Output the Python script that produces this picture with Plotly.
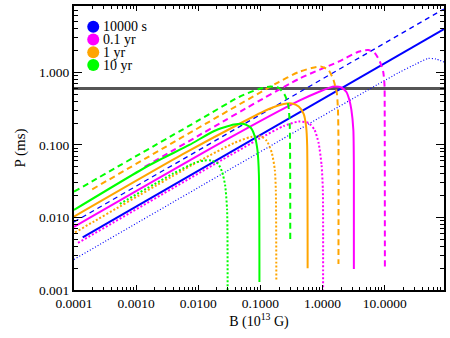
import math
import plotly.graph_objects as go

# ---------------- data (B in 1e13 G, P in ms) ----------------
B_10000s_solid = [1.38e-4, 90]
P_10000s_solid = [0.00533, 3.94]
B_10000s_dash = [1e-4, 90]
P_10000s_dash = [0.00867, 7.46]
B_10000s_dot = [1e-4, 16.4, 31.9, 49.7, 66.7, 90]
P_10000s_dot = [0.00264, 0.978, 1.301, 1.549, 1.525, 1.387]

B_01yr_solid = [1e-4, 0.0261, 0.413, 0.863, 1.50, 2.01, 2.42, 2.70, 2.91, 3.13, 3.19, 3.19]
P_01yr_solid = [0.00740, 0.1132, 0.403, 0.535, 0.637, 0.617, 0.535, 0.415, 0.303, 0.160, 0.0451, 0.00195]
B_01yr_dash = [1.368e-3, 0.413, 1.803, 3.767, 5.445, 6.97, 8.38, 9.46, 9.93, 10.0, 10.07]
P_01yr_dash = [0.0497, 0.809, 1.40, 1.92, 2.03, 1.83, 1.40, 1.019, 0.668, 0.303, 0.002]
B_01yr_dot = [1.159e-4, 0.0946, 0.2377, 0.413, 0.597, 0.745, 0.863, 0.964, 1.011, 1.019]
P_01yr_dot = [0.00446, 0.1206, 0.182, 0.210, 0.2003, 0.1604, 0.1062, 0.0528, 0.0239, 0.001]

B_1yr_solid = [1e-4, 5.55e-3, 0.04529, 0.1368, 0.2377, 0.319, 0.413, 0.4966, 0.5445, 0.565, 0.575]
P_1yr_solid = [0.01026, 0.0738, 0.194, 0.312, 0.366, 0.372, 0.338, 0.2665, 0.1764, 0.0997, 0.002]
B_1yr_dash = [1.963e-4, 0.1977, 0.413, 0.667, 0.929, 1.247, 1.50, 1.694, 1.770, 1.803, 1.803]
P_1yr_dash = [0.0244, 0.735, 1.01, 1.146, 1.202, 1.076, 0.783, 0.519, 0.303, 0.1168, 0.00229]
B_1yr_dot = [1.037e-4, 0.01038, 0.03767, 0.0705, 0.1019, 0.127, 0.1528, 0.1706, 0.177, 0.1803]
P_1yr_dot = [0.00621, 0.06, 0.1062, 0.1285, 0.1306, 0.1132, 0.0773, 0.0451, 0.0239, 0.001355]

B_10yr_solid = [1e-4, 1.644e-3, 7.18e-3, 0.01803, 0.03767, 0.0545, 0.0705, 0.0817, 0.0895, 0.0946, 0.0964]
P_10yr_solid = [0.01268, 0.0528, 0.0997, 0.1554, 0.191, 0.194, 0.171, 0.1285, 0.0851, 0.0385, 0.00129]
B_10yr_dash = [1e-4, 0.01038, 0.04529, 0.0946, 0.1472, 0.1977, 0.2466, 0.2805, 0.2965, 0.302]
P_10yr_dash = [0.02266, 0.2203, 0.457, 0.589, 0.637, 0.608, 0.487, 0.355, 0.188, 0.00475]
B_10yr_dot = [5.445e-4, 3.98e-3, 8.63e-3, 0.01247, 0.01614, 0.0209, 0.0242, 0.0270, 0.0291, 0.02965]
P_10yr_dot = [0.01535, 0.0404, 0.0563, 0.061, 0.061, 0.0546, 0.0423, 0.0280, 0.01268, 0.001]

P_LINE = 0.6
B_RANGE = [1e-4, 90]
P_RANGE = [1e-3, 8.2]

LEGEND_LABELS = ["10000 s", "0.1 yr", "1 yr", "10 yr"]
X_TICKS = [1e-4, 1e-3, 1e-2, 1e-1, 1, 10]
X_TICK_LABELS = ["0.0001", "0.0010", "0.0100", "0.1000", "1.0000", "10.0000"]
Y_TICKS = [1e-3, 1e-2, 1e-1, 1]
Y_TICK_LABELS = ["0.001", "0.010", "0.100", "1.000"]

# ---------------- styling ----------------
BLUE, MAGENTA, ORANGE, GREEN = "#0000FF", "#FF00FF", "#FFA500", "#00FF00"
COLORS = [BLUE, MAGENTA, ORANGE, GREEN]
FONT = "Liberation Serif, Times New Roman, serif"

fig = go.Figure()

# horizontal reference line
fig.add_trace(go.Scatter(x=B_RANGE, y=[P_LINE, P_LINE], mode="lines",
                         line=dict(color="#555555", width=3), showlegend=False))

curves = [
    (B_10000s_dot, P_10000s_dot, BLUE, "1px,2px", 1.2),
    (B_10000s_dash, P_10000s_dash, BLUE, "5px,4px", 1.3),
    (B_10000s_solid, P_10000s_solid, BLUE, "solid", 2),
    (B_01yr_dot, P_01yr_dot, MAGENTA, "2px,2px", 2),
    (B_01yr_dash, P_01yr_dash, MAGENTA, "6px,4px", 2),
    (B_01yr_solid, P_01yr_solid, MAGENTA, "solid", 2),
    (B_1yr_dot, P_1yr_dot, ORANGE, "2px,2px", 2),
    (B_1yr_dash, P_1yr_dash, ORANGE, "6px,4px", 2),
    (B_1yr_solid, P_1yr_solid, ORANGE, "solid", 2),
    (B_10yr_dot, P_10yr_dot, GREEN, "2px,2px", 2),
    (B_10yr_dash, P_10yr_dash, GREEN, "6px,4px", 2),
    (B_10yr_solid, P_10yr_solid, GREEN, "solid", 2),
]
for bx, py, col, dash, w in curves:
    fig.add_trace(go.Scatter(x=bx, y=py, mode="lines",
                             line=dict(color=col, width=w, dash=dash,
                                       shape="spline", smoothing=0.6),
                             showlegend=False))

# manual legend (overlay axes in [0,1])
leg_x = 0.052
leg_y = [0.927, 0.882, 0.837, 0.792]
fig.add_trace(go.Scatter(x=[leg_x] * 4, y=leg_y, mode="markers",
                         marker=dict(color=COLORS, size=12, line=dict(width=0)),
                         xaxis="x2", yaxis="y2", showlegend=False))
for lab, yy in zip(LEGEND_LABELS, leg_y):
    fig.add_annotation(x=0.073, y=yy, xref="paper", yref="paper", text=lab,
                       showarrow=False, xanchor="left", yanchor="middle",
                       font=dict(family=FONT, size=14, color="black"))

minor_x = [m * 10 ** e for e in range(-4, 2) for m in range(2, 10)]
minor_y = [m * 10 ** e for e in range(-3, 1) for m in range(2, 10)]

fig.update_layout(
    width=450, height=338,
    margin=dict(l=74, r=4, t=6, b=48),
    paper_bgcolor="white", plot_bgcolor="white",
    font=dict(family=FONT, size=13.5, color="black"),
    showlegend=False,
    xaxis=dict(type="log", range=[math.log10(B_RANGE[0]), math.log10(B_RANGE[1])],
               tickmode="array", tickvals=X_TICKS, ticktext=X_TICK_LABELS,
               ticks="inside", ticklen=5, tickwidth=1, tickcolor="black",
               minor=dict(tickmode="array", tickvals=minor_x, ticks="inside",
                          ticklen=3, tickwidth=1, tickcolor="black", showgrid=False),
               showline=True, linewidth=2, linecolor="black", mirror="allticks",
               showgrid=False, zeroline=False,
               title=dict(text="B (10<sup>13</sup> G)", font=dict(size=14), standoff=5)),
    yaxis=dict(type="log", range=[math.log10(P_RANGE[0]), math.log10(P_RANGE[1])],
               tickmode="array", tickvals=Y_TICKS, ticktext=Y_TICK_LABELS,
               ticks="inside", ticklen=8, tickwidth=1, tickcolor="black",
               minor=dict(tickmode="array", tickvals=minor_y, ticks="inside",
                          ticklen=4, tickwidth=1, tickcolor="black", showgrid=False),
               showline=True, linewidth=2, linecolor="black", mirror="allticks",
               showgrid=False, zeroline=False,
               title=dict(text="P (ms)", font=dict(size=15), standoff=10)),
    xaxis2=dict(overlaying="x", range=[0, 1], visible=False),
    yaxis2=dict(overlaying="y", range=[0, 1], visible=False),
)

fig.write_html("out.html")
